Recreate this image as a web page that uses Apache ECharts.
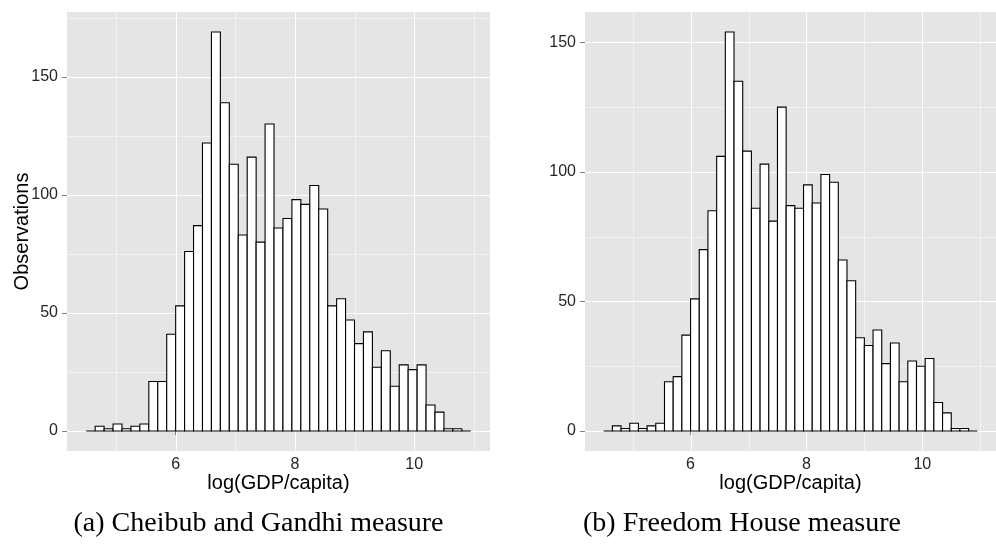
<!DOCTYPE html>
<html><head><meta charset="utf-8">
<script src="https://cdn.jsdelivr.net/npm/echarts@6/dist/echarts.min.js"></script>
<style>html,body{margin:0;padding:0;background:#fff}#c{width:996px;height:546px}</style>
</head><body><div id="c"></div>
<script>
// Histogram bin edges (log GDP per capita)
const binEdges = [4.5,4.65,4.8,4.95,5.1,5.25,5.4,5.55,5.7,5.85,6.0,6.15,6.3,6.45,6.6,6.75,6.9,7.05,7.2,7.35,7.5,7.65,7.8,7.95,8.1,8.25,8.4,8.55,8.7,8.85,9.0,9.15,9.3,9.45,9.6,9.75,9.9,10.05,10.2,10.35,10.5,10.65,10.8,10.95];
// Observations per bin – Cheibub and Gandhi measure
const countsCG = [0,2,1,3,1,2,3,21,21,41,53,76,87,122,169,139,113,83,116,80,130,86,90,98,96,104,94,53,56,47,37,42,27,34,19,28,26,28,11,8,1,1,0];
// Observations per bin – Freedom House measure
const countsFH = [0,2,1,3,1,2,3,19,21,37,51,70,85,106,154,135,108,86,103,81,125,87,86,95,88,99,96,66,58,36,33,39,26,34,19,27,25,28,11,7,1,1,0];
const xTicks = [6,8,10];
const xMinor = [5,7,9,11];
const yTicks = [0,50,100,150];
const yMinorCG = [25,75,125,175];
const yMinorFH = [25,75,125];
const xTitle = 'log(GDP/capita)';
const yTitle = 'Observations';
const captions = ['(a) Cheibub and Gandhi measure', '(b) Freedom House measure'];

const SANS = 'Liberation Sans, Arial, Helvetica, sans-serif';
const SERIF = 'Liberation Serif, Times New Roman, serif';

function binData(counts){
  return counts.map((c,i)=>[binEdges[i], binEdges[i+1], c]);
}
function gridLineData(xMaj, xMin, yMaj, yMin){
  const d=[];
  xMin.forEach(v=>d.push([v,0,0])); yMin.forEach(v=>d.push([0,v,1]));
  xMaj.forEach(v=>d.push([v,0,2])); yMaj.forEach(v=>d.push([0,v,3]));
  return d;
}
function renderGridLine(params, api){
  const cs = params.coordSys;
  const kind = api.value(2);
  const color = (kind>=2)?'#ffffff':'#f2f2f2';
  if(kind===0 || kind===2){
    const p = api.coord([api.value(0), 0]);
    const x = Math.round(p[0])+0.5;
    return {type:'line', shape:{x1:x,y1:cs.y,x2:x,y2:cs.y+cs.height}, style:{stroke:color,lineWidth:1}};
  } else {
    const p = api.coord([0, api.value(1)]);
    const y = Math.round(p[1])+0.5;
    return {type:'line', shape:{x1:cs.x,y1:y,x2:cs.x+cs.width,y2:y}, style:{stroke:color,lineWidth:1}};
  }
}
function renderBar(params, api){
  const a = api.coord([api.value(0), api.value(2)]);
  const b = api.coord([api.value(1), 0]);
  return {type:'rect', shape:{x:a[0], y:a[1], width:b[0]-a[0], height:b[1]-a[1]},
    style:{fill:'#ffffff', stroke:'#000000', lineWidth:1.1}};
}
function xAxisCfg(i){
  return {gridIndex:i, type:'value', min:4.1775, max:11.2725,
    axisLine:{show:false}, splitLine:{show:false},
    axisTick:{show:true, customValues:xTicks, length:4, lineStyle:{color:'#7f7f7f', width:1}},
    axisLabel:{customValues:xTicks, fontSize:16, color:'#262626', margin:6, fontFamily:SANS},
    name:xTitle, nameLocation:'middle', nameGap:22, nameMoveOverlap:false,
    nameTextStyle:{fontSize:20, color:'#000000', fontFamily:SANS}};
}
function yAxisCfg(i, min, max, withName){
  const c = {gridIndex:i, type:'value', min:min, max:max,
    axisLine:{show:false}, splitLine:{show:false},
    axisTick:{show:true, customValues:yTicks, length:5, lineStyle:{color:'#7f7f7f', width:1}},
    axisLabel:{customValues:yTicks, fontSize:16, color:'#262626', margin:9, fontFamily:SANS}};
  if(withName){
    c.name = yTitle; c.nameLocation='middle'; c.nameGap=35; c.nameMoveOverlap=false;
    c.nameTextStyle = {fontSize:20, color:'#000000', fontFamily:SANS};
  }
  return c;
}
const chart = echarts.init(document.getElementById('c'), null, {renderer:'canvas'});
chart.setOption({
  backgroundColor:'#ffffff',
  animation:false,
  grid:[
    {left:67, top:12, width:423, height:439, show:true, backgroundColor:'#e5e5e5', borderWidth:0},
    {left:585, top:12, width:423, height:439, show:true, backgroundColor:'#e5e5e5', borderWidth:0}
  ],
  xAxis:[xAxisCfg(0), xAxisCfg(1)],
  yAxis:[yAxisCfg(0,-8.45,177.45,true), yAxisCfg(1,-7.7,161.7,false)],
  title:[
    {text:captions[0], left:253.5, top:505, textAlign:'center',
      textStyle:{fontFamily:SERIF, fontSize:28, fontWeight:'normal', color:'#000'}},
    {text:captions[1], left:737, top:505, textAlign:'center',
      textStyle:{fontFamily:SERIF, fontSize:28, fontWeight:'normal', color:'#000'}}
  ],
  series:[
    {type:'custom', xAxisIndex:0, yAxisIndex:0, z:1, silent:true, renderItem:renderGridLine,
      data:gridLineData(xTicks,xMinor,yTicks,yMinorCG), encode:{x:0,y:1}},
    {type:'custom', xAxisIndex:1, yAxisIndex:1, z:1, silent:true, renderItem:renderGridLine,
      data:gridLineData(xTicks,xMinor,yTicks,yMinorFH), encode:{x:0,y:1}},
    {type:'custom', xAxisIndex:0, yAxisIndex:0, z:2, renderItem:renderBar,
      data:binData(countsCG), encode:{x:[0,1], y:2}},
    {type:'custom', xAxisIndex:1, yAxisIndex:1, z:2, renderItem:renderBar,
      data:binData(countsFH), encode:{x:[0,1], y:2}}
  ]
});
</script></body></html>
